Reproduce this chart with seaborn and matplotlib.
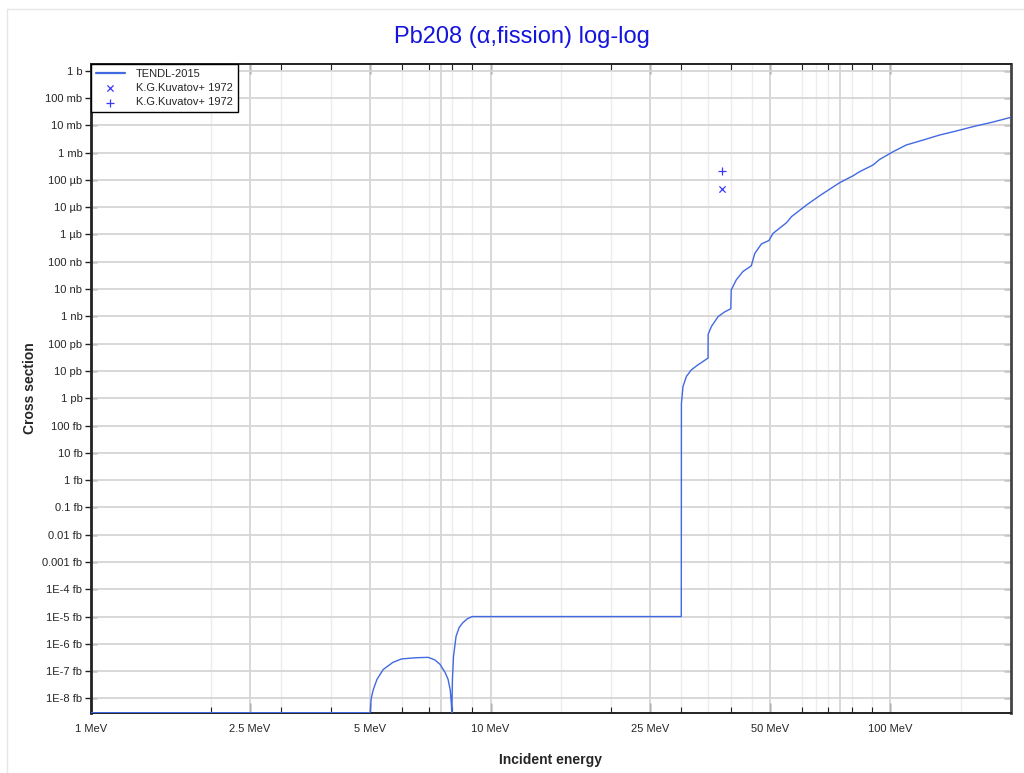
import numpy as np
import pandas as pd
import matplotlib
matplotlib.use("Agg")
import matplotlib.pyplot as plt
import seaborn as sns
from matplotlib.ticker import FixedLocator, FixedFormatter, NullFormatter

# ---------------- data (energy in MeV, cross section in barn) ----------------
floor_b = 3.0e-24  # drawn at the bottom of the plot (zero cross section)

tendl_energy = [1.0, 5.0, 5.01, 5.03, 5.09, 5.2, 5.39, 5.7, 5.99, 6.5, 6.98, 7.25,
                7.47, 7.7, 7.83, 7.93, 7.98, 8.0, 8.01, 8.03, 8.08, 8.2, 8.35, 8.52,
                8.75, 9.0, 30.0, 30.02, 30.3, 30.9, 31.8, 33.0, 35.0, 35.02, 35.7,
                37.1, 38.5, 39.9, 40.0, 41.2, 42.8, 44.9, 45.8, 47.6, 49.7, 50.9,
                55.0, 56.6, 61.7, 67.0, 74.7, 80.6, 83.8, 90.5, 94.0, 101.5, 109.6,
                120.0, 132.8, 145.0, 160.9, 180.0, 200.0]
tendl_xs = [floor_b, floor_b, 4.5e-24, 1.0e-23, 2.1e-23, 5.0e-23, 1.15e-22, 2.1e-22,
            2.8e-22, 3.1e-22, 3.2e-22, 2.6e-22, 1.8e-22, 8.9e-23, 5.0e-23, 2.0e-23,
            6.3e-24, floor_b, 6.3e-24, 5.0e-23, 3.5e-22, 1.9e-21, 4.0e-21, 5.9e-21,
            8.3e-21, 1.0e-20, 1.0e-20, 6.3e-13, 2.7e-12, 6.3e-12, 1.1e-11, 1.66e-11,
            2.95e-11, 2.2e-10, 4.3e-10, 9.8e-10, 1.45e-9, 1.9e-9, 9.3e-9, 2.2e-8,
            4.4e-8, 7.1e-8, 2.0e-7, 4.5e-7, 6.0e-7, 1.1e-6, 2.7e-6, 4.5e-6, 1.2e-5,
            2.8e-5, 7.9e-5, 1.4e-4, 2.0e-4, 3.5e-4, 5.6e-4, 1.07e-3, 1.9e-3, 2.8e-3,
            4.4e-3, 6.0e-3, 8.9e-3, 1.3e-2, 1.95e-2]

exp_x_energy = [37.9]
exp_x_xs = [4.7e-5]
exp_plus_energy = [37.9]
exp_plus_xs = [2.1e-4]

series_labels = ["TENDL-2015", "K.G.Kuvatov+ 1972", "K.G.Kuvatov+ 1972"]

x_tick_values = [1, 2.5, 5, 10, 25, 50, 100]
x_tick_labels = ["1 MeV", "2.5 MeV", "5 MeV", "10 MeV", "25 MeV", "50 MeV", "100 MeV"]

y_tick_values = [10.0 ** -k for k in range(0, 24)]
y_tick_labels = ["1 b", "100 mb", "10 mb", "1 mb", "100 µb", "10 µb", "1 µb",
                 "100 nb", "10 nb", "1 nb", "100 pb", "10 pb", "1 pb",
                 "100 fb", "10 fb", "1 fb", "0.1 fb", "0.01 fb", "0.001 fb",
                 "1E-4 fb", "1E-5 fb", "1E-6 fb", "1E-7 fb", "1E-8 fb"]

title_text = "Pb208 (α,fission) log-log"
x_label = "Incident energy"
y_label = "Cross section"

# ---------------- plot ----------------
sns.set_theme(style="white")
plt.rcParams["font.family"] = ["Liberation Sans", "DejaVu Sans"]

fig = plt.figure(figsize=(10.24, 7.73), dpi=100)
ax = fig.add_axes([0.0886, 0.078, 0.8984, 0.8392])

df_line = pd.DataFrame({"E": tendl_energy, "xs": tendl_xs})
df_x = pd.DataFrame({"E": exp_x_energy, "xs": exp_x_xs})
df_p = pd.DataFrame({"E": exp_plus_energy, "xs": exp_plus_xs})

ax.set_xscale("log")
ax.set_yscale("log")

sns.lineplot(data=df_line, x="E", y="xs", ax=ax, estimator=None, sort=False,
             color="#4169e1", linewidth=1.0, label=series_labels[0], zorder=3)
sns.scatterplot(data=df_x, x="E", y="xs", ax=ax, marker="x", s=20,
                color="#3a3aff", linewidth=0.9, label=series_labels[1], zorder=4)
sns.scatterplot(data=df_p, x="E", y="xs", ax=ax, marker="+", s=36,
                color="#3a3aff", linewidth=0.9, label=series_labels[2], zorder=4)

ax.set_xlim(1.0, 200.0)
ax.set_ylim(floor_b, 1.76)

# grid
major_grid_x = [1, 2.5, 5, 7.5, 10, 25, 50, 75, 100]
minor_grid_x = [2, 3, 4, 6, 7, 8, 9, 15, 20, 30, 35, 40, 45, 60, 65, 70, 80, 90, 150]
for gx in minor_grid_x:
    ax.axvline(gx, color="#ededed", linewidth=1.0, zorder=0)
for gx in major_grid_x:
    ax.axvline(gx, color="#d2d2d2", linewidth=1.2, zorder=1)
for gy in y_tick_values:
    ax.axhline(gy, color="#d6d6d6", linewidth=1.3, zorder=1)

# ticks
ax.xaxis.set_major_locator(FixedLocator(x_tick_values))
ax.xaxis.set_major_formatter(FixedFormatter(x_tick_labels))
minor_ticks = [v * d for d in (1, 10, 100) for v in range(2, 10) if v * d < 200]
ax.xaxis.set_minor_locator(FixedLocator(minor_ticks))
ax.xaxis.set_minor_formatter(NullFormatter())
ax.yaxis.set_major_locator(FixedLocator(y_tick_values))
ax.yaxis.set_major_formatter(FixedFormatter(y_tick_labels))
ax.yaxis.set_minor_locator(FixedLocator([]))

ax.tick_params(axis="x", which="major", direction="in", length=7, width=1.0,
               top=True, bottom=True, labelsize=8, pad=8, color="#222222")
ax.tick_params(axis="x", which="minor", direction="in", length=4, width=0.8,
               top=True, bottom=True, color="#222222")
ax.tick_params(axis="y", which="major", direction="inout", length=8, width=1.0,
               left=True, right=False, labelsize=8, pad=2, color="#222222")
ax2 = ax.secondary_yaxis("right")
ax2.yaxis.set_major_locator(FixedLocator(y_tick_values))
ax2.yaxis.set_major_formatter(NullFormatter())
ax2.yaxis.set_minor_locator(FixedLocator([]))
ax2.tick_params(axis="y", direction="in", length=5, width=1.0, color="#222222")
ax2.spines["right"].set_visible(False)

for side, sp in ax.spines.items():
    sp.set_visible(True)
    sp.set_color("#222222")
    sp.set_linewidth(1.4)
ax.spines["left"].set_linewidth(2.0)
ax.spines["right"].set_linewidth(2.0)
ax.spines["right"].set_color("#444444")

ax.set_xlabel(x_label, fontsize=10, fontweight="bold", labelpad=14)
ax.set_ylabel(y_label, fontsize=10, fontweight="bold", labelpad=4)
fig.text(0.51, 0.952, title_text, ha="center", va="center", fontsize=17, color="#1414dc")

leg = ax.legend(loc="upper left", bbox_to_anchor=(0, 1), borderaxespad=0,
                fontsize=8, frameon=True, fancybox=False, edgecolor="black",
                framealpha=1.0, handlelength=2.6, handletextpad=1.0,
                borderpad=0.45, labelspacing=0.38)
leg.get_frame().set_linewidth(1.0)
leg.get_lines()[0].set_linewidth(1.6)

# faint outer frame of the figure
fig.add_artist(plt.Line2D([0.0068, 0.0068], [0.0, 0.988], transform=fig.transFigure,
                          color="#e6e6e6", linewidth=1.0))
fig.add_artist(plt.Line2D([0.0068, 1.0], [0.988, 0.988], transform=fig.transFigure,
                          color="#e6e6e6", linewidth=1.0))

fig.savefig("out.png", dpi=100)
